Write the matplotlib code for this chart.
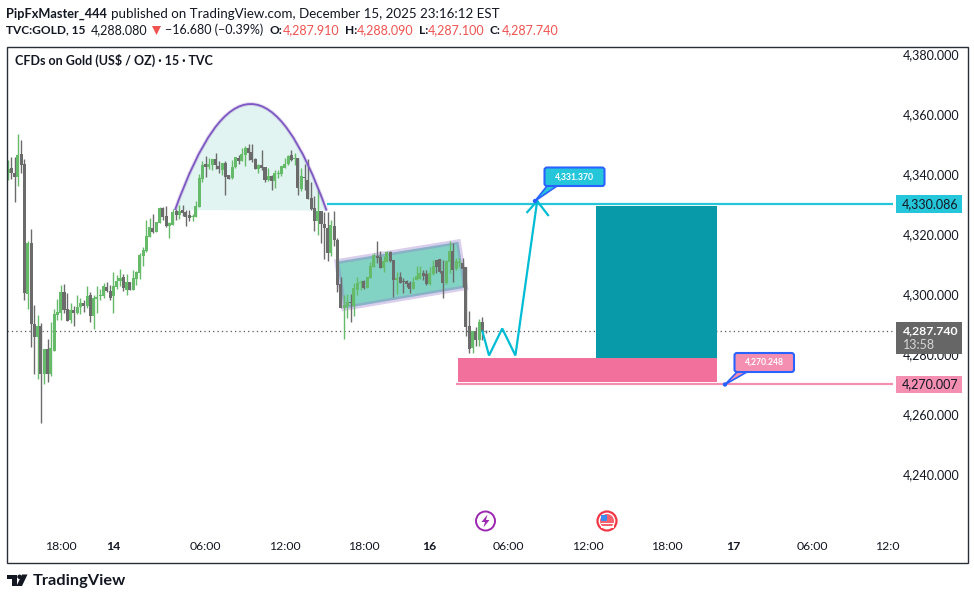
import matplotlib
matplotlib.use('Agg')
import matplotlib.pyplot as plt
from matplotlib.patches import Circle, FancyBboxPatch, PathPatch, Polygon, Rectangle
from matplotlib.path import Path
from matplotlib.transforms import Bbox, TransformedBbox

plt.rcParams['font.family'] = ['Lato', 'DejaVu Sans']

# 15 min candles, G = up, R = down
directions = ("GRRGRRGRRG" "RGRGGGGRRG" "RGGRGRGGGG" "RRGGGRGRGG" "GGGGRGGRRG"
              "GRGRRRGGGG" "RGGRRGRRGG" "RGGRRRGRRG" "RGGGGGRGRG" "RRRRGRRRGR"
              "RRGGRGGGRG" "GGRRGGRRGR" "RRRGGGRRGG" "RRRGGRGGRR" "RGRGRR")

body_top = [
    4341.7, 4341.9, 4340.2, 4346.3, 4346.7, 4343.3, 4316.9, 4316.9, 4290.0, 4289.3,
    4289.3, 4281.7, 4281.7, 4281.9, 4293.3, 4294.0, 4300.7, 4300.7, 4295.0, 4294.7,
    4294.7, 4295.7, 4296.9, 4296.9, 4299.3, 4299.7, 4298.7, 4299.0, 4299.7, 4302.7,
    4302.3, 4301.0, 4302.7, 4304.3, 4305.3, 4305.7, 4304.0, 4304.0, 4305.3, 4307.3,
    4313.0, 4314.7, 4319.3, 4322.3, 4322.0, 4324.0, 4328.7, 4328.7, 4326.0, 4323.7,
    4327.3, 4327.7, 4327.7, 4328.0, 4327.3, 4326.3, 4326.0, 4329.3, 4338.7, 4343.0,
    4343.3, 4343.3, 4345.0, 4345.0, 4342.7, 4343.7, 4343.7, 4339.7, 4342.3, 4345.7,
    4345.3, 4346.7, 4348.7, 4348.7, 4347.3, 4345.0, 4343.0, 4343.0, 4342.3, 4339.3,
    4339.3, 4340.3, 4340.3, 4342.7, 4343.3, 4346.0, 4346.3, 4345.3, 4345.3, 4339.3,
    4339.0, 4338.0, 4332.0, 4328.7, 4327.7, 4327.7, 4323.3, 4322.0, 4323.0, 4322.7,
    4318.0, 4303.3, 4296.3, 4297.3, 4297.4, 4302.0, 4303.6, 4304.1, 4304.3, 4305.8,
    4309.3, 4313.0, 4312.7, 4312.2, 4311.0, 4314.0, 4314.0, 4311.3, 4305.2, 4305.7,
    4304.3, 4304.3, 4303.7, 4304.0, 4306.0, 4307.0, 4307.0, 4306.7, 4307.0, 4309.3,
    4311.3, 4311.6, 4307.7, 4311.0, 4314.3, 4314.3, 4311.0, 4310.4, 4310.3, 4309.0,
    4289.3, 4287.7, 4287.7, 4290.7, 4290.7, 4287.7,
]
body_bottom = [
    4340.4, 4340.2, 4339.1, 4339.1, 4343.1, 4300.4, 4300.1, 4290.0, 4285.8, 4285.8,
    4273.3, 4273.3, 4273.3, 4273.3, 4281.1, 4293.0, 4293.8, 4294.7, 4291.1, 4291.3,
    4293.7, 4293.7, 4295.7, 4296.1, 4296.1, 4292.7, 4292.7, 4298.3, 4299.3, 4299.3,
    4301.0, 4298.7, 4299.3, 4302.3, 4304.3, 4302.0, 4301.3, 4301.3, 4301.3, 4305.0,
    4307.0, 4312.7, 4314.3, 4319.0, 4320.6, 4320.7, 4323.7, 4325.7, 4322.7, 4322.7,
    4323.0, 4326.3, 4326.3, 4327.0, 4325.7, 4325.3, 4325.7, 4325.7, 4329.0, 4338.3,
    4342.3, 4342.3, 4343.0, 4343.0, 4341.7, 4341.3, 4339.0, 4338.3, 4338.7, 4342.3,
    4344.3, 4344.3, 4346.3, 4347.0, 4344.7, 4341.7, 4341.7, 4341.9, 4338.0, 4338.0,
    4337.7, 4337.7, 4340.0, 4340.0, 4342.0, 4343.3, 4344.7, 4345.0, 4335.3, 4335.0,
    4338.7, 4331.7, 4328.3, 4324.3, 4324.3, 4323.3, 4322.0, 4313.7, 4313.7, 4318.0,
    4303.0, 4295.3, 4295.2, 4296.0, 4296.9, 4296.0, 4301.3, 4303.6, 4302.0, 4302.0,
    4305.3, 4309.0, 4312.1, 4308.7, 4308.7, 4310.7, 4311.0, 4304.7, 4304.7, 4303.7,
    4304.0, 4303.3, 4301.7, 4301.7, 4304.7, 4305.0, 4306.0, 4303.3, 4303.3, 4306.7,
    4309.0, 4307.4, 4303.7, 4303.7, 4310.7, 4308.0, 4308.3, 4310.2, 4308.3, 4289.1,
    4281.7, 4281.9, 4284.7, 4284.7, 4287.4, 4287.5,
]
wick_high = [
    4344.7, 4345.8, 4345.8, 4353.3, 4351.3, 4345.0, 4317.7, 4321.6, 4296.3, 4293.0,
    4290.2, 4281.7, 4285.0, 4290.7, 4295.0, 4298.3, 4302.9, 4303.3, 4300.3, 4296.9,
    4296.0, 4299.7, 4298.6, 4298.0, 4302.7, 4300.7, 4299.7, 4302.7, 4301.7, 4303.6,
    4304.0, 4303.0, 4307.3, 4306.3, 4308.3, 4306.7, 4306.7, 4304.0, 4308.0, 4307.7,
    4313.7, 4315.7, 4324.7, 4325.3, 4326.7, 4324.0, 4329.0, 4329.0, 4329.3, 4324.0,
    4328.3, 4328.3, 4329.7, 4329.7, 4328.0, 4328.0, 4326.7, 4331.0, 4340.0, 4344.3,
    4346.0, 4345.3, 4345.0, 4347.0, 4344.3, 4343.7, 4344.3, 4339.7, 4344.7, 4345.7,
    4346.3, 4348.7, 4349.3, 4350.0, 4350.0, 4345.3, 4343.3, 4348.0, 4342.3, 4342.0,
    4339.7, 4341.3, 4341.3, 4342.7, 4345.3, 4346.3, 4348.0, 4347.0, 4345.3, 4342.0,
    4343.3, 4345.0, 4337.3, 4332.7, 4335.0, 4327.7, 4327.3, 4327.3, 4324.7, 4327.7,
    4318.7, 4305.7, 4299.7, 4300.0, 4300.0, 4303.6, 4305.8, 4304.7, 4304.7, 4305.8,
    4310.8, 4313.6, 4317.7, 4314.3, 4312.7, 4314.3, 4314.3, 4311.3, 4307.3, 4307.3,
    4305.2, 4304.7, 4304.3, 4305.8, 4309.3, 4309.3, 4308.0, 4308.0, 4309.1, 4311.3,
    4311.3, 4311.6, 4311.3, 4311.3, 4317.7, 4316.9, 4311.9, 4311.9, 4311.9, 4309.0,
    4294.3, 4287.7, 4289.0, 4291.7, 4292.4, 4288.0,
]
wick_low = [
    4338.0, 4338.2, 4330.8, 4336.0, 4340.4, 4298.0, 4295.1, 4282.4, 4273.3, 4271.8,
    4256.9, 4270.1, 4270.7, 4272.8, 4281.1, 4291.3, 4291.3, 4293.8, 4291.1, 4290.4,
    4289.3, 4293.4, 4293.4, 4294.1, 4295.3, 4290.7, 4288.3, 4293.7, 4298.0, 4298.7,
    4300.7, 4298.0, 4293.7, 4301.7, 4302.7, 4301.0, 4299.7, 4301.3, 4301.3, 4303.0,
    4305.0, 4309.3, 4314.0, 4319.0, 4320.3, 4320.7, 4323.7, 4324.7, 4322.3, 4318.7,
    4323.0, 4324.7, 4325.0, 4326.0, 4322.7, 4324.3, 4324.3, 4325.7, 4329.0, 4337.3,
    4339.0, 4341.7, 4341.3, 4341.7, 4340.3, 4339.7, 4333.0, 4338.3, 4338.3, 4342.0,
    4343.3, 4344.3, 4342.7, 4344.7, 4344.0, 4341.7, 4340.3, 4341.3, 4337.3, 4337.7,
    4334.7, 4335.3, 4338.7, 4339.3, 4342.0, 4343.0, 4344.3, 4343.0, 4333.0, 4334.3,
    4334.7, 4331.7, 4328.0, 4321.0, 4319.7, 4317.0, 4311.7, 4311.0, 4312.7, 4316.0,
    4300.7, 4295.3, 4285.0, 4292.1, 4290.5, 4292.7, 4299.7, 4301.3, 4301.7, 4302.0,
    4305.3, 4309.0, 4310.2, 4308.7, 4307.4, 4310.7, 4310.8, 4299.0, 4300.0, 4303.7,
    4300.3, 4302.4, 4300.3, 4301.7, 4304.7, 4305.0, 4304.7, 4303.0, 4303.0, 4306.3,
    4306.9, 4306.9, 4298.8, 4303.3, 4306.9, 4304.1, 4308.0, 4309.1, 4302.4, 4286.1,
    4280.4, 4280.4, 4282.7, 4282.7, 4284.7, 4287.1,
]

price_ticks = [4380, 4360, 4340, 4320, 4300, 4280, 4260, 4240]
time_ticks = [16, 32, 60, 84, 108, 128, 152, 176, 200, 220, 244, 268]
time_labels = ['18:00', '14', '06:00', '12:00', '18:00', '16', '06:00', '12:00', '18:00', '17', '06:00', '12:00']
day_labels = ['14', '16', '17']

last_price = 4287.740
target_price = 4330.086
stop_price = 4270.007

# drawings, in bar index / price
arc_x = [50.7, 73.7, 96.7]
arc_y = [4328.0, 4398.8, 4327.8]
channel_x = [99.8, 136.7, 138.9, 102.0]
channel_y = [4310.8, 4317.4, 4302.1, 4295.2]
zigzag_x = [144.0, 146.0, 150.0, 154.0, 160.6]
zigzag_y = [4287.5, 4279.5, 4288.5, 4279.5, 4331.0]
head_x = [157.6, 160.6, 163.9]
head_y = [4327.3, 4331.0, 4326.3]
tp_box = (178.4, 215.2, 4278.7, 4329.3)
sl_box = (136.6, 215.2, 4270.7, 4278.7)

CANDLE_UP = '#66bb6a'
CANDLE_DOWN = '#6b6b6b'
TEXT = '#131722'
RED = '#ef5350'
CYAN = '#26c6da'
PINK = '#f48fb1'

W, H = 974, 599
fig = plt.figure(figsize=(W / 100, H / 100), dpi=100, facecolor='white')

# main pane, right edge is where the price scale starts
ax = fig.add_axes([7 / W, (H - 533) / H, 886 / W, 487 / H])
ax.set_xlim(-0.3, 268.6)
ax.set_ylim(4220.33, 4382.67)
for s in ax.spines.values():
    s.set_visible(False)
ax.yaxis.tick_right()
ax.set_yticks(price_ticks, [f'{p:,.3f}' for p in price_ticks])
ax.set_xticks(time_ticks, time_labels)
ax.tick_params(axis='y', length=0, pad=7, labelsize=9.0, labelcolor=TEXT)
ax.tick_params(axis='x', length=0, pad=6, labelsize=8.8, labelcolor=TEXT)
for lab in ax.get_xticklabels():
    if lab.get_text() in day_labels:
        lab.set_fontweight('bold')
# the last time label is cut by the price scale
last_lab = ax.get_xticklabels()[-1]
last_lab.set_clip_box(TransformedBbox(Bbox([[0, 0], [900 / W, 1]]), fig.transFigure))
last_lab.set_clip_on(True)

# arc with fill
arc_verts = list(zip(arc_x, arc_y))
arc_path = Path(arc_verts, [Path.MOVETO, Path.CURVE3, Path.CURVE3])
ax.add_patch(PathPatch(arc_path, facecolor='#e2f4f1', edgecolor='none', zorder=1))
ax.add_patch(PathPatch(arc_path, facecolor='none', edgecolor='#7e57c2', alpha=0.2, lw=2.8, zorder=4))
ax.add_patch(PathPatch(arc_path, facecolor='none', edgecolor='#7e57c2', lw=1.3, zorder=4))

# rotated channel
channel = list(zip(channel_x, channel_y))
ax.add_patch(Polygon(channel, closed=True, facecolor='#82d3c3', edgecolor='none', zorder=1))
ax.add_patch(Polygon(channel, closed=True, facecolor='none', edgecolor='#9575cd', alpha=0.35, lw=3.6, zorder=1.5))

# candles
colors = [CANDLE_UP if d == 'G' else CANDLE_DOWN for d in directions]
idx = list(range(len(directions)))
ax.vlines(idx, wick_low, wick_high, colors=colors, lw=1.0, zorder=2)
heights = [max(t - b, 0.33) for t, b in zip(body_top, body_bottom)]
ax.bar(idx, heights, bottom=body_bottom, width=0.92, color=colors, linewidth=0, zorder=3)

# last price
ax.axhline(last_price, color='#555555', lw=0.9, ls=(0, (1, 2.5)), zorder=1)

# target / stop lines and boxes
ax.hlines(target_price, 96.8, 268.6, color=CYAN, lw=1.6, zorder=2)
ax.hlines(stop_price, 136.0, 268.6, color=PINK, lw=1.6, zorder=2)
ax.add_patch(Rectangle((tp_box[0], tp_box[2]), tp_box[1] - tp_box[0], tp_box[3] - tp_box[2],
                       facecolor='#089aa8', edgecolor='none', zorder=5))
ax.add_patch(Rectangle((sl_box[0], sl_box[2]), sl_box[1] - sl_box[0], sl_box[3] - sl_box[2],
                       facecolor='#f2709c', edgecolor='none', zorder=5))

# projected path
ax.plot(zigzag_x, zigzag_y, color='#00bcd4', lw=1.6, solid_joinstyle='miter', zorder=6)
ax.plot(head_x, head_y, color='#00bcd4', lw=1.6, solid_joinstyle='miter', zorder=6)

# overlay in picture pixels for the scale labels, header and logo
ov = fig.add_axes([0, 0, 1, 1], facecolor='none')
ov.set_xlim(0, W)
ov.set_ylim(H, 0)
ov.axis('off')

ov.add_patch(Rectangle((6.5, 46.5), 961, 516, facecolor='none', edgecolor='#2a2e39', lw=1.0))


def scale_label(y0, y1, color):
    ov.add_patch(Rectangle((896, y0), 66, y1 - y0, facecolor=color, edgecolor='none'))


scale_label(195, 213, CYAN)
ov.text(958, 204, f'{target_price:,.3f}', ha='right', va='center', fontsize=9.0, color=TEXT)
scale_label(322, 354, '#666666')
ov.text(958, 331, f'{last_price:,.3f}', ha='right', va='center', fontsize=8.8, color='white', fontweight='bold')
ov.text(903, 345, '13:58', ha='left', va='center', fontsize=9, color='#d8d8d8')
scale_label(376, 393, PINK)
ov.text(958, 384, f'{stop_price:,.3f}', ha='right', va='center', fontsize=9.0, color=TEXT)


def callout(x0, x1, y0, y1, tip, tail, color, label):
    ov.add_patch(Polygon([tip, tail[0], tail[1]], closed=True, facecolor=color, edgecolor='#2962ff', lw=1.2, zorder=5))
    ov.add_patch(FancyBboxPatch((x0, y0), x1 - x0, y1 - y0, boxstyle='round,pad=0,rounding_size=2.5',
                                facecolor=color, edgecolor='#2962ff', lw=1.5, zorder=6))
    ov.add_patch(Circle(tip, 2.2, facecolor='#2962ff', edgecolor='none', zorder=7))
    ov.text((x0 + x1) / 2, (y0 + y1) / 2, label, ha='center', va='center', fontsize=6.2,
            color='white', fontweight='bold', zorder=8)


callout(544.5, 604.5, 167.5, 186, (535, 201), [(547, 186), (557, 186)], CYAN, '4,331.370')
callout(734.5, 794, 353, 372, (725, 384.5), [(737, 372), (747, 372)], PINK, '4,270.248')

# event markers above the time scale
ov.add_patch(Circle((485.5, 521), 9.5, facecolor='white', edgecolor='#9c27b0', lw=1.4))
ov.add_patch(Polygon([(487.5, 514.5), (481.5, 522), (485, 522), (483.5, 527.5), (489.5, 520), (486, 520)],
                     closed=True, facecolor='#9c27b0', edgecolor='none'))
ov.add_patch(Circle((607, 521), 9.5, facecolor='white', edgecolor='#f23645', lw=1.6))
ov.add_patch(Circle((607, 521), 7, facecolor='#f7616d', edgecolor='none'))
for yy in (522.5, 526):
    ov.add_patch(Rectangle((600.5, yy), 13, 1.6, facecolor='white', edgecolor='none'))
ov.add_patch(Rectangle((600.5, 514.5), 6.5, 6.5, facecolor='#3d8bf0', edgecolor='none'))

# header, placed piece by piece
ov.text(6, 14, 'PipFxMaster_444', fontsize=9.2, fontweight='bold', color=TEXT, va='center')
ov.text(111, 14, 'published on TradingView.com, December 15, 2025 23:16:12 EST', fontsize=9.6, color=TEXT, va='center')
ov.text(6, 30, 'TVC:GOLD, 15', fontsize=8.6, fontweight='bold', color=TEXT, va='center')
ov.text(91, 30, '4,288.080', fontsize=9.0, color=TEXT, va='center')
ov.add_patch(Polygon([(152, 26), (161, 26), (156.5, 35)], closed=True, facecolor=RED, edgecolor='none'))
ov.text(165, 30, '\u221216.680 (\u22120.39%)', fontsize=9.0, color=TEXT, va='center')
for lab_x, lab, val_x, val in [(270, 'O:', 283, '4,287.910'), (345, 'H:', 357, '4,288.090'),
                               (419, 'L:', 428, '4,287.100'), (490, 'C:', 502, '4,287.740')]:
    ov.text(lab_x, 30, lab, fontsize=8.6, fontweight='bold', color=TEXT, va='center')
    ov.text(val_x, 30, val, fontsize=9.0, color=RED, va='center')
ov.text(15, 60, 'CFDs on Gold (US$ / OZ) \u00b7 15 \u00b7 TVC', fontsize=9.0, fontweight='bold', color=TEXT, va='center')

# logo
ov.add_patch(Polygon([(7, 574.5), (17, 574.5), (17, 586), (12, 586), (12, 579), (7, 579)], closed=True,
                     facecolor=TEXT, edgecolor='none'))
ov.add_patch(Circle((19.5, 576.8), 2.2, facecolor=TEXT, edgecolor='none'))
ov.add_patch(Polygon([(22, 574.5), (27.5, 574.5), (22, 586), (16.5, 586)], closed=True, facecolor=TEXT, edgecolor='none'))
ov.text(33, 580.5, 'TradingView', fontsize=11.8, fontweight='bold', color=TEXT, va='center')

fig.savefig('out.png', dpi=100)
plt.close(fig)
